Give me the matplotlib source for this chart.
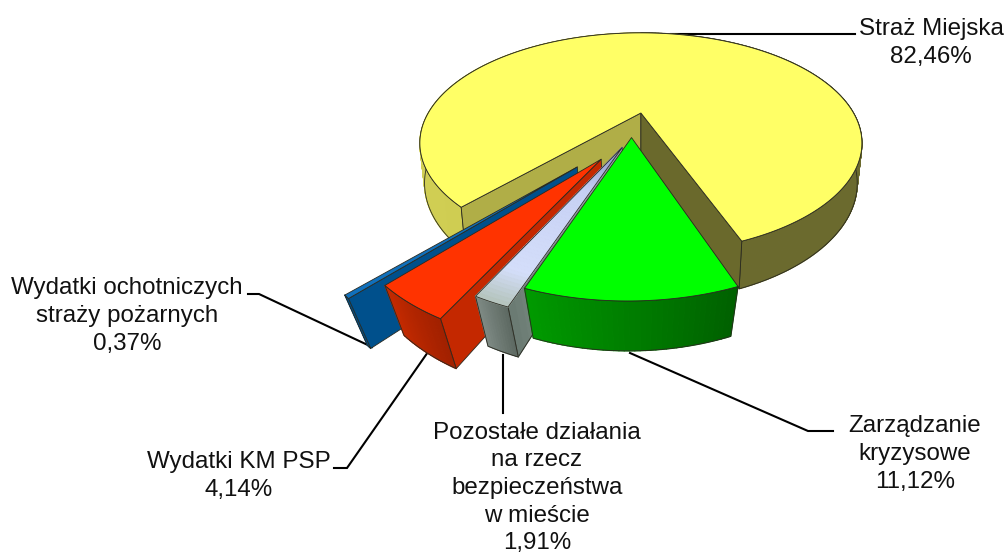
import numpy as np
import matplotlib
matplotlib.use("Agg")
import matplotlib.pyplot as plt
from matplotlib.patches import Polygon

plt.rcParams['font.family'] = ['Liberation Sans', 'DejaVu Sans']

# --- data (pie order, clockwise from the green slice) ---
names = ["Zarządzanie\nkryzysowe", "Pozostałe działania\nna rzecz\nbezpieczeństwa\nw mieście",
         "Wydatki KM PSP", "Wydatki ochotniczych\nstraży pożarnych", "Straż Miejska"]
shares = [11.12, 1.91, 4.14, 0.37, 82.46]
share_labels = ["11,12%", "1,91%", "4,14%", "0,37%", "82,46%"]
explode = [0.01, 0.10, 0.225, 0.33, 0.22]
start_angle = -20.7

top_cols = ["#00FF00", None, "#FF3300", "#1070BC", "#FFFF66"]
W, H = 1005, 553

# --- perspective projection of the pie (yellow apex is the frame origin) ---
OX, OY = 641.0, 113.0
A, B, K = 212.6, 102.0, 0.273
DEPTH = {"C": 46.3, "M": 0.055}
ORIGIN = np.array([-0.042, -0.216])


def proj(x, y, z=0.0):
    w = 1.0 / (1.0 + K * y + DEPTH["M"] * z)
    return np.column_stack([OX + A * x * w, OY + (-B * y + DEPTH["C"] * z) * w])


def mix(c1, c2, t):
    a = np.array(matplotlib.colors.to_rgb(c1))
    b = np.array(matplotlib.colors.to_rgb(c2))
    return tuple(a + (b - a) * t)


fig = plt.figure(figsize=(W / 100, H / 100), dpi=100)
ax = fig.add_axes([0, 0, 1, 1])
ax.set_xlim(0, W)
ax.set_ylim(H, 0)
ax.axis("off")

EDGE = "#2a2a20"
LW = 0.6


def poly(pts, fc, edge=None, z=2, lw=LW):
    ax.add_patch(Polygon(pts, closed=True, facecolor=fc,
                         edgecolor=edge if edge else fc,
                         linewidth=lw if edge else 0.9, zorder=z, joinstyle="round"))


def arc(c, p0, p1, n=None):
    n = n or max(int(abs(p1 - p0) * 2), 4)
    ph = np.radians(np.linspace(p0, p1, n))
    return c[0] - np.sin(ph), c[1] - np.cos(ph)


def wall_radial(c, ph, fc0, fc1, z, n=30):
    """flat wall from apex to rim at angle ph"""
    r = np.radians(ph)
    ax_, ay_ = np.array([c[0]]), np.array([c[1]])
    ex, ey = ax_ - np.sin(r), ay_ - np.cos(r)
    pts = np.vstack([proj(ax_, ay_), proj(ex, ey), proj(ex, ey, 1.0), proj(ax_, ay_, 1.0)])
    if fc0 == fc1:
        poly(pts, fc0, EDGE, z)
        return
    for i in range(n):
        t0, t1 = i / n, (i + 1) / n
        q = np.array([pts[0] + (pts[1] - pts[0]) * t0, pts[0] + (pts[1] - pts[0]) * t1,
                      pts[3] + (pts[2] - pts[3]) * t1, pts[3] + (pts[2] - pts[3]) * t0])
        poly(q, mix(fc0, fc1, (t0 + t1) / 2), None, z)
    poly(pts, "none", EDGE, z)


def wall_outer(c, p0, p1, col0, col1, z, n=None):
    xs, ys = arc(c, p0, p1, n)
    top, bot = proj(xs, ys), proj(xs, ys, 1.0)
    m = len(xs) - 1
    for i in range(m):
        q = np.array([top[i], top[i + 1], bot[i + 1], bot[i]])
        poly(q, mix(col0, col1, (i + 0.5) / m), None, z)
    poly(np.vstack([top, bot[::-1]]), "none", EDGE, z)


def top_face(c, p0, p1, col, z, grad=None):
    xs, ys = arc(c, p0, p1)
    rim = proj(xs, ys)
    ap = proj(np.array([c[0]]), np.array([c[1]]))
    if grad:
        stops, cols = grad
        n = 60
        for i in range(n):
            r0, r1 = i / n, (i + 1) / n
            x0 = c[0] + (xs - c[0]) * r0
            y0 = c[1] + (ys - c[1]) * r0
            x1 = c[0] + (xs - c[0]) * r1
            y1 = c[1] + (ys - c[1]) * r1
            q = np.vstack([proj(x0, y0), proj(x1, y1)[::-1]])
            t = (r0 + r1) / 2
            rgb = [np.interp(t, stops, [matplotlib.colors.to_rgb(k)[j] for k in cols]) for j in range(3)]
            poly(q, tuple(rgb), None, z)
        poly(np.vstack([ap, rim]), "none", EDGE, z)
    else:
        poly(np.vstack([ap, rim]), col, EDGE, z)


# angular extents of each slice from its share
edges = start_angle + np.concatenate([[0], np.cumsum(shares)]) * 3.6
centres = []
for i, e in enumerate(explode):
    mid = np.radians((edges[i] + edges[i + 1]) / 2)
    centres.append(ORIGIN + e * np.array([-np.sin(mid), -np.cos(mid)]))

# yellow: Straż Miejska (the far slice shows less convergence)
DEPTH.update(C=39.0, M=0.02)
c = centres[4]
p0, p1 = edges[4], edges[5]
wall_outer(c, p0, 180, "#CFCD52", "#D8D65C", 2)
wall_outer(c, 180, p1, "#6B6A2E", "#6B6A2E", 2)
wall_radial(c, p0, "#B0AE47", "#B0AE47", 3)
wall_radial(c, p1, "#6A692C", "#6A692C", 3)
top_face(c, p0, p1, top_cols[4], 4)
DEPTH.update(C=46.3, M=0.055)

# blue: ochotnicze
c = centres[3]
p0, p1 = edges[3], edges[4]
wall_radial(c, p0, "#00508C", "#00508C", 5)
wall_outer(c, p0, p1, "#00508C", "#00508C", 5)
top_face(c, p0, p1, top_cols[3], 6)

# red: KM PSP
c = centres[2]
p0, p1 = edges[2], edges[3]
wall_radial(c, p0, "#C42800", "#C42800", 7)
wall_outer(c, p0, p1, "#A02000", "#C42A00", 7)
top_face(c, p0, p1, top_cols[2], 8)

# grey: pozostałe
c = centres[1]
p0, p1 = edges[1], edges[2]
wall_radial(c, p0, "#A0AEAA", "#6A7A72", 9, n=20)
wall_outer(c, p0, p1, "#5C6860", "#7E8A84", 9)
top_face(c, p0, p1, None, 10,
         grad=([0, 0.35, 0.85, 1.0], ["#8088C0", "#C6D0F4", "#D4DEFA", "#B4C4BC"]))

# green: zarządzanie
c = centres[0]
p0, p1 = edges[0], edges[1]
wall_outer(c, p0, p1, "#006000", "#009A00", 11, n=40)
top_face(c, p0, p1, top_cols[0], 12)

# --- labels and leader lines ---
FS = 17.35
label_pos = [(915, 432), (537, 439), (239, 468), (127, 294), (931, 35)]
line_steps = [28.0, 27.5, 28.0, 28.0, 28.0]
for nm, sl, (x, y), step in zip(names, share_labels, label_pos, line_steps):
    for j, line in enumerate((nm + "\n" + sl).split("\n")):
        ax.text(x, y + j * step, line, ha="center", va="baseline", fontsize=FS, color="#111111", zorder=20)

leaders = [
    ([630, 353, 808, 431, 833, 431]),
    ([503, 355, 503, 413]),
    ([428, 352, 347, 468, 334, 468]),
    ([372, 347, 259, 294, 248, 294]),
    ([671, 34, 855, 34]),
]
for seg in leaders:
    ax.plot(seg[0::2], seg[1::2], color="black", lw=1.5, zorder=1, solid_joinstyle="miter")

fig.savefig("out.png", dpi=100)
